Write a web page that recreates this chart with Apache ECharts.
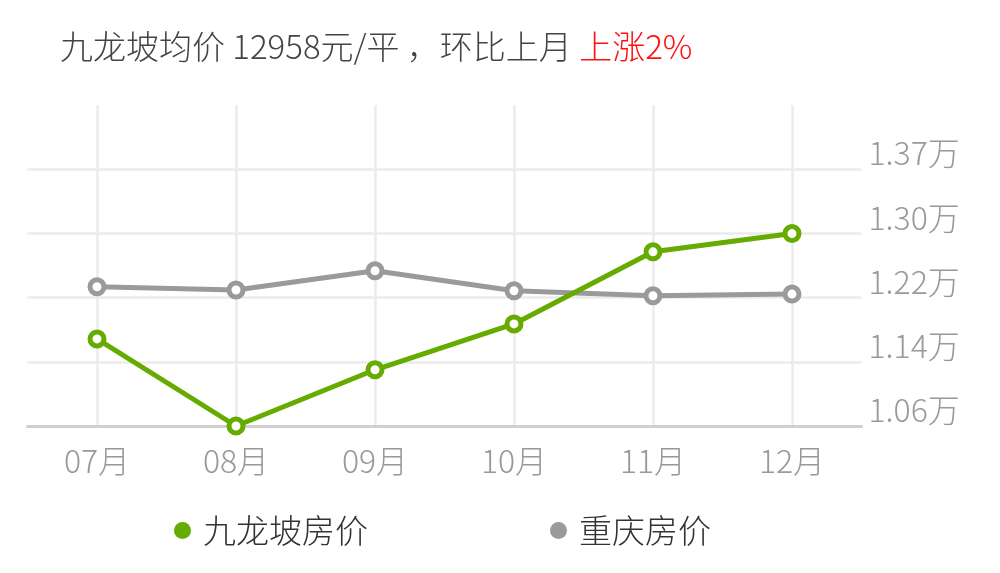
<!DOCTYPE html>
<html>
<head>
<meta charset="utf-8">
<script src="https://cdn.jsdelivr.net/npm/echarts@6/dist/echarts.min.js"></script>
<style>
  html, body { margin: 0; padding: 0; background: #fff; }
  #chart { width: 1000px; height: 573px; }
</style>
</head>
<body>
<div id="chart"></div>
<script>
// 数据
var months = ['07月', '08月', '09月', '10月', '11月', '12月'];
var jlpPrice = [11678, 10620, 11303, 11860, 12736, 12958];
var cqPrice = [12312, 12272, 12506, 12263, 12203, 12223];
var seriesNames = ['九龙坡房价', '重庆房价'];

var green = '#66ab00';
var gray = '#9a9a9a';
var font = '"Noto Sans CJK SC", sans-serif';

var chart = echarts.init(document.getElementById('chart'));
chart.setOption({
  animation: false,
  title: {
    text: '{a|九龙坡均价 12958元/平 ，环比上月 }{b|上涨2%}',
    left: 55,
    top: 25,
    textStyle: {
      rich: {
        a: { color: '#444', fontSize: 33, fontFamily: font, fontWeight: 300 },
        b: { color: '#f11', fontSize: 33, fontFamily: font, fontWeight: 300 }
      }
    }
  },
  legend: {
    data: [
      { name: seriesNames[0], itemStyle: { color: green } },
      { name: seriesNames[1], itemStyle: { color: gray } }
    ],
    icon: 'circle',
    left: 169,
    top: 509,
    itemWidth: 17,
    itemHeight: 17,
    itemGap: 182,
    itemStyle: { borderWidth: 0 },
    textStyle: { color: '#333', fontSize: 33, fontFamily: font, fontWeight: 300, padding: [0, 0, 0, 7] }
  },
  grid: { left: 27.5, right: 138.5, top: 105, bottom: 147 },
  xAxis: {
    type: 'category',
    data: months,
    boundaryGap: true,
    axisTick: { show: false },
    axisLine: { lineStyle: { color: '#d0d0d0', width: 3 } },
    axisLabel: { color: '#999', fontSize: 32, fontFamily: font, fontWeight: 300, margin: 19 },
    splitLine: { show: true, alignWithLabel: true, lineStyle: { color: '#ebebeb', width: 2.5 } }
  },
  yAxis: {
    type: 'value',
    position: 'right',
    min: 10620,
    max: 14520,
    interval: 780,
    axisLine: { show: false },
    axisTick: { show: false },
    axisLabel: {
      color: '#999',
      fontSize: 32,
      fontFamily: font,
      fontWeight: 300,
      margin: 7,
      verticalAlign: 'bottom',
      showMaxLabel: false,
      formatter: function (v) { return (v / 10000).toFixed(2) + '万'; }
    },
    splitLine: { showMaxLine: false, lineStyle: { color: '#ebebeb', width: 2.5 } }
  },
  series: [
    {
      name: seriesNames[0],
      type: 'line',
      data: jlpPrice,
      symbol: 'circle',
      symbolSize: 14,
      itemStyle: { color: '#fff', borderColor: green, borderWidth: 5 },
      lineStyle: { color: green, width: 5 },
      z: 3
    },
    {
      name: seriesNames[1],
      type: 'line',
      data: cqPrice,
      symbol: 'circle',
      symbolSize: 14,
      itemStyle: { color: '#fff', borderColor: gray, borderWidth: 5 },
      lineStyle: { color: gray, width: 5 },
      z: 2
    }
  ]
});
</script>
</body>
</html>
